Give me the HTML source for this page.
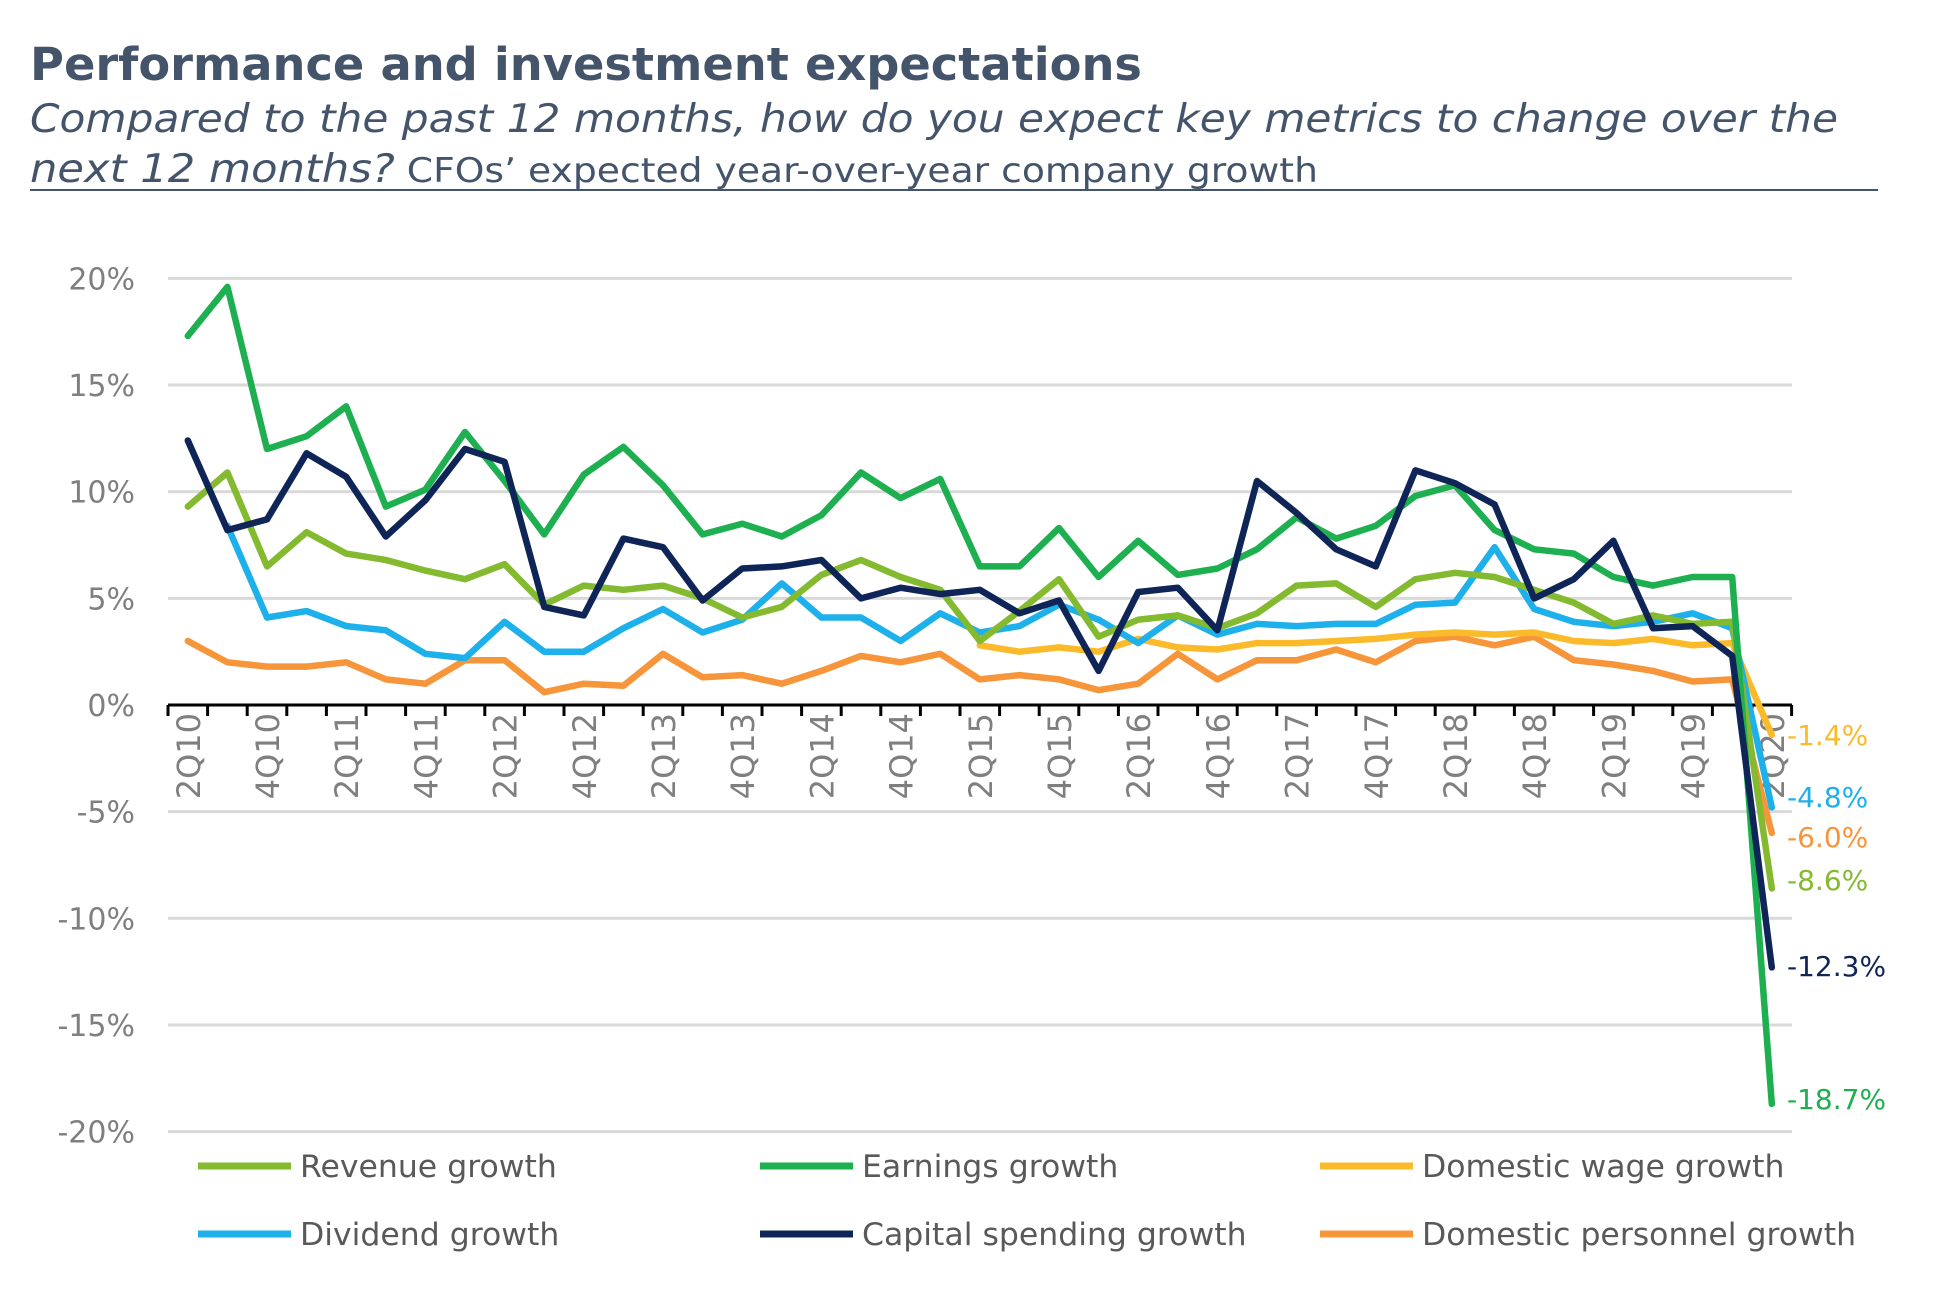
<!DOCTYPE html>
<html><head><meta charset="utf-8"><style>
html,body{margin:0;padding:0;background:#fff;}
svg{display:block;font-family:"DejaVu Sans","Liberation Sans",sans-serif;}
</style></head><body>
<svg id="c" width="1952" height="1296" viewBox="0 0 1952 1296" xmlns="http://www.w3.org/2000/svg">
<text x="30" y="80" font-size="45" font-weight="bold" fill="#44546A" textLength="1112" lengthAdjust="spacingAndGlyphs">Performance and investment expectations</text>
<text x="30" y="132" font-size="39" font-style="italic" fill="#44546A" textLength="1808" lengthAdjust="spacingAndGlyphs">Compared to the past 12 months, how do you expect key metrics to change over the</text>
<text x="30" y="182" font-size="39" fill="#44546A" textLength="1288" lengthAdjust="spacingAndGlyphs"><tspan font-style="italic">next 12 months?</tspan><tspan font-size="34"> CFOs’ expected year-over-year company growth</tspan></text>
<line x1="30" y1="190" x2="1878" y2="190" stroke="#44546A" stroke-width="2"/>
<g id="grid"></g><g id="series"></g><g id="labels"></g>
</svg>
<script>
const NS="http://www.w3.org/2000/svg";
function el(t,a,p,txt){const e=document.createElementNS(NS,t);for(const k in a)e.setAttribute(k,a[k]);if(txt!==undefined)e.textContent=txt;p.appendChild(e);return e;}
const g=document.getElementById('grid'),s=document.getElementById('series'),l=document.getElementById('labels');
const Y0=705,PP=21.33,X0=168,W=39.6;
const y=v=>Y0-v*PP,x=i=>X0+W/2+i*W;
for(let v=20;v>=-20;v-=5){
 if(v!==0)el('line',{x1:X0,x2:1792,y1:y(v),y2:y(v),stroke:'#D9D9D9','stroke-width':3},g);
 el('text',{x:135,y:y(v)+11,'font-size':30,fill:'#7F7F7F','text-anchor':'end'},g,v+'%');
}
el('line',{x1:X0,x2:1792,y1:Y0,y2:Y0,stroke:'#000','stroke-width':3},g);
for(let i=0;i<=41;i++)el('line',{x1:X0+i*W,x2:X0+i*W,y1:Y0,y2:Y0+11,stroke:'#000','stroke-width':3},g);
for(let i=0;i<=40;i+=2){const q=(i%4===0?'2Q':'4Q')+String(10+Math.floor(i/4)).padStart(2,'0');
 const xx=x(i)+12;el('text',{x:xx,y:713,'font-size':32,fill:'#7F7F7F','text-anchor':'end',transform:`rotate(-90 ${xx} 713)`},g,q);}
const data=[
['#F7953B',0,[3.0,2.0,1.8,1.8,2.0,1.2,1.0,2.1,2.1,0.6,1.0,0.9,2.4,1.3,1.4,1.0,1.6,2.3,2.0,2.4,1.2,1.4,1.2,0.7,1.0,2.4,1.2,2.1,2.1,2.6,2.0,3.0,3.2,2.8,3.2,2.1,1.9,1.6,1.1,1.2,-6.0]],
['#FBBA2A',20,[2.8,2.5,2.7,2.5,3.1,2.7,2.6,2.9,2.9,3.0,3.1,3.3,3.4,3.3,3.4,3.0,2.9,3.1,2.8,2.9,-1.4]],
['#1EB0EA',1,[8.4,4.1,4.4,3.7,3.5,2.4,2.2,3.9,2.5,2.5,3.6,4.5,3.4,4.0,5.7,4.1,4.1,3.0,4.3,3.4,3.7,4.7,4.0,2.9,4.2,3.3,3.8,3.7,3.8,3.8,4.7,4.8,7.4,4.5,3.9,3.7,3.9,4.3,3.6,-4.8]],
['#84BA30',0,[9.3,10.9,6.5,8.1,7.1,6.8,6.3,5.9,6.6,4.7,5.6,5.4,5.6,5.0,4.1,4.6,6.1,6.8,6.0,5.4,3.0,4.4,5.9,3.2,4.0,4.2,3.6,4.3,5.6,5.7,4.6,5.9,6.2,6.0,5.4,4.8,3.8,4.2,3.8,3.9,-8.6]],
['#1DAF50',0,[17.3,19.6,12.0,12.6,14.0,9.3,10.1,12.8,10.5,8.0,10.8,12.1,10.3,8.0,8.5,7.9,8.9,10.9,9.7,10.6,6.5,6.5,8.3,6.0,7.7,6.1,6.4,7.3,8.8,7.8,8.4,9.8,10.3,8.2,7.3,7.1,6.0,5.6,6.0,6.0,-18.7]],
['#0F2557',0,[12.4,8.2,8.7,11.8,10.7,7.9,9.6,12.0,11.4,4.6,4.2,7.8,7.4,4.9,6.4,6.5,6.8,5.0,5.5,5.2,5.4,4.3,4.9,1.6,5.3,5.5,3.5,10.5,9.0,7.3,6.5,11.0,10.4,9.4,5.0,5.9,7.7,3.6,3.7,2.3,-12.3]]];
for(const [c,st,v] of data){el('polyline',{points:v.map((d,k)=>x(st+k).toFixed(1)+','+y(d).toFixed(1)).join(' '),fill:'none',stroke:c,'stroke-width':6.5,'stroke-linejoin':'round','stroke-linecap':'round'},s);}
const ends=[['-1.4%',735,'#FBBA2A'],['-4.8%',797,'#1EB0EA'],['-6.0%',837,'#F7953B'],['-8.6%',880,'#84BA30'],['-12.3%',966,'#0F2557'],['-18.7%',1099,'#1DAF50']];
for(const [t,yy,c] of ends)el('text',{x:1787,y:yy+10,'font-size':28,fill:c},l,t);
const leg=[['Revenue growth','#84BA30',198,1166],['Earnings growth','#1DAF50',760,1166],['Domestic wage growth','#FBBA2A',1320,1166],
['Dividend growth','#1EB0EA',198,1234],['Capital spending growth','#0F2557',760,1234],['Domestic personnel growth','#F7953B',1320,1234]];
for(const [t,c,xx,yy] of leg){el('line',{x1:xx,x2:xx+93,y1:yy,y2:yy,stroke:c,'stroke-width':7},l);
 el('text',{x:xx+102,y:yy+11,'font-size':31.5,fill:'#595959'},l,t);}
</script>
</body></html>
